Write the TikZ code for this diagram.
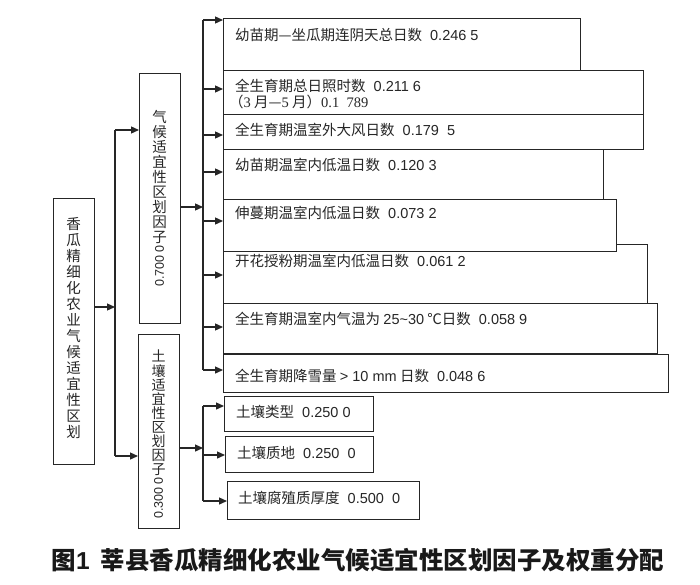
\documentclass[tikz,border=0pt]{standalone}
\usepackage{fontspec}
\setmainfont{Noto Sans CJK SC}
\newfontfamily\lat{Liberation Sans}
\newfontfamily\ser{Liberation Serif}
\usetikzlibrary{arrows.meta}
\newcommand{\gp}{\hspace{8pt}}
\begin{document}
\begin{tikzpicture}[x=1pt,y=-1pt]
\tikzset{
 bx/.style={draw=black!85, line width=1.3pt, fill=white, inner sep=0pt, anchor=north west},
 txt/.style={anchor=west, inner sep=0pt, font=\fontsize{14.5}{16}\selectfont, text=black!85},
 vtxt/.style={anchor=north, inner sep=0pt, align=center, text=black!85},
 num/.style={rotate=90, inner sep=0pt, text=black!85, font=\lat\fontsize{12.5}{12.5}\selectfont},
 arr/.style={draw=black!85, line width=1.3pt, -{Triangle[length=8pt,width=7pt]}},
 ln/.style={draw=black!85, line width=1.3pt},
}
\useasboundingbox[fill=white] (0,0) rectangle (700,584);

% left boxes
\node[bx, minimum width=41pt, minimum height=266pt] (main) at (53,198) {};
\node[bx, minimum width=41pt, minimum height=250pt] (clim) at (139,73) {};
\node[bx, minimum width=41pt, minimum height=194pt] (soil) at (138,334) {};

\node[vtxt, font=\fontsize{14.5}{16}\selectfont] (mt) at (73.5,217) {香\\瓜\\精\\细\\化\\农\\业\\气\\候\\适\\宜\\性\\区\\划};
\node[vtxt, font=\fontsize{14.5}{15}\selectfont] (ct) at (159.5,110) {气\\候\\适\\宜\\性\\区\\划\\因\\子};
\node[num] (cn) at (159.5,266) {0.700 0};
\node[vtxt, font=\fontsize{14}{14.1}\selectfont] (st) at (158.5,350) {土\\壤\\适\\宜\\性\\区\\划\\因\\子};
\node[num] (sn) at (158.5,498) {0.300 0};

% climate factor boxes
\node[bx, minimum width=357pt, minimum height=52pt] (b1) at (223,18) {};
\node[bx, minimum width=420pt, minimum height=44pt] (b2) at (223,70) {};
\node[bx, minimum width=420pt, minimum height=35pt] (b3) at (223,114) {};
\node[bx, minimum width=380pt, minimum height=50pt] (b4) at (223,149) {};
\node[bx, minimum width=424pt, minimum height=59pt] (b6) at (223,244) {};
\node[bx, minimum width=393pt, minimum height=52pt] (b5) at (223,199) {};
\node[bx, minimum width=434pt, minimum height=50pt] (b7) at (223,303) {};
\node[bx, minimum width=445pt, minimum height=38pt] (b8) at (223,354) {};

% soil factor boxes
\node[bx, minimum width=149pt, minimum height=35pt] (s1) at (224,396) {};
\node[bx, minimum width=148pt, minimum height=36pt] (s2) at (225,436) {};
\node[bx, minimum width=192pt, minimum height=38pt] (s3) at (227,481) {};

% texts
\node[txt] (t1) at (235,35) {幼苗期—坐瓜期连阴天总日数\gp{\lat 0.246 5}};
\node[txt] (t2) at (235,86) {全生育期总日照时数\gp{\lat 0.211 6}};
\node[txt] (t2b) at (229,102) {（{\ser 3} 月—{\ser 5} 月）{\ser 0.1\ \ 789}};
\node[txt] (t3) at (235,130) {全生育期温室外大风日数\gp{\lat 0.179\ \ 5}};
\node[txt] (t4) at (235,165) {幼苗期温室内低温日数\gp{\lat 0.120 3}};
\node[txt] (t5) at (235,213) {伸蔓期温室内低温日数\gp{\lat 0.073 2}};
\node[txt] (t6) at (235,261) {开花授粉期温室内低温日数\gp{\lat 0.061 2}};
\node[txt] (t7) at (235,319) {全生育期温室内气温为 {\lat 25\textasciitilde30} ℃日数\gp{\lat 0.058 9}};
\node[txt] (t8) at (235,376) {全生育期降雪量 {\lat > 10 mm} 日数\gp{\lat 0.048 6}};
\node[txt] (u1) at (236,412) {土壤类型\gp{\lat 0.250 0}};
\node[txt] (u2) at (237,453) {土壤质地\gp{\lat 0.250\ \ 0}};
\node[txt] (u3) at (238,498) {土壤腐殖质厚度\gp{\lat 0.500\ \ 0}};

% caption
\node[inner sep=0pt, font=\bfseries\fontsize{24.5}{26}\selectfont, text=black!90] (cap) at (358,560) {图{\lat\bfseries 1}\ \ 莘县香瓜精细化农业气候适宜性区划因子及权重分配};

% connectors
\coordinate (aT) at (115,130);
\coordinate (aM) at (115,307);
\coordinate (aB) at (115,456);
\draw[ln] (aT) -- (aB);
\draw[arr] (main.east |- aM) -- (aM);
\draw[arr] (aT) -- (clim.west |- aT);
\draw[arr] (aB) -- (soil.west |- aB);

\coordinate (cM) at (203,207);
\coordinate (cT) at (203,20);
\coordinate (cB) at (203,370);
\draw[ln] (cT) -- (cB);
\draw[arr] (clim.east |- cM) -- (cM);
\coordinate (y2) at (203,89);
\coordinate (y3) at (203,135);
\coordinate (y4) at (203,172);
\coordinate (y5) at (203,221);
\coordinate (y6) at (203,275);
\coordinate (y7) at (203,327);
\draw[arr] (cT) -- (b1.west |- cT);
\draw[arr] (y2) -- (b2.west |- y2);
\draw[arr] (y3) -- (b3.west |- y3);
\draw[arr] (y4) -- (b4.west |- y4);
\draw[arr] (y5) -- (b5.west |- y5);
\draw[arr] (y6) -- (b6.west |- y6);
\draw[arr] (y7) -- (b7.west |- y7);
\draw[arr] (cB) -- (b8.west |- cB);

\coordinate (dM) at (203,448);
\coordinate (dT) at (203,406);
\coordinate (d2) at (203,455);
\coordinate (dB) at (203,501);
\draw[ln] (dT) -- (dB);
\draw[arr] (soil.east |- dM) -- (dM);
\draw[arr] (dT) -- (s1.west |- dT);
\draw[arr] (d2) -- (s2.west |- d2);
\draw[arr] (dB) -- (s3.west |- dB);
\end{tikzpicture}
\end{document}
